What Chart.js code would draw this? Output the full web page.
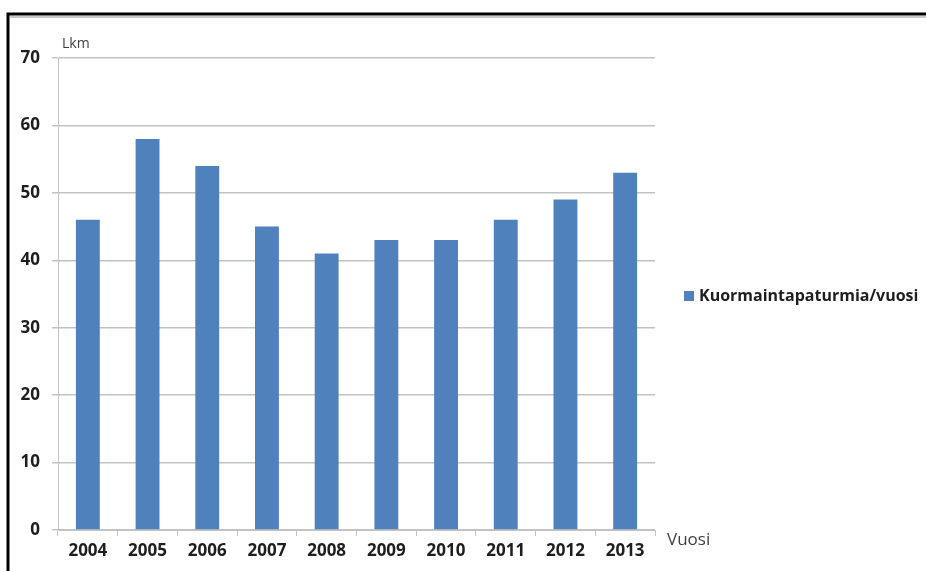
<!DOCTYPE html>
<html>
<head>
<meta charset="utf-8">
<script src="https://cdn.jsdelivr.net/npm/chart.js@4/dist/chart.umd.min.js"></script>
<style>
	html, body { margin: 0; padding: 0; background: #fff; }
	#wrap { position: relative; width: 926px; height: 571px; }
</style>
</head>
<body>
<div id="wrap"><canvas id="accidentChart" width="926" height="571"></canvas></div>
<script>
const years = ['2004', '2005', '2006', '2007', '2008', '2009', '2010', '2011', '2012', '2013'];
const accidents = [46, 58, 54, 45, 41, 43, 43, 46, 49, 53];
const yTicks = [0, 10, 20, 30, 40, 50, 60, 70];
const seriesName = 'Kuormaintapaturmia/vuosi';
const yTitle = 'Lkm';
const xTitle = 'Vuosi';

const barColor = '#4f81bd';
const gridColor = '#c3c3c3';
const textColor = '#1e1e1e';

// frame, axis captions and the legend on the right
const decorations = {
	id: 'decorations',
	beforeDraw(chart) {
		const ctx = chart.ctx;
		ctx.save();
		ctx.fillStyle = '#fff';
		ctx.fillRect(0, 0, chart.width, chart.height);
		ctx.strokeStyle = '#c8c8c8';
		ctx.lineWidth = 2;
		ctx.beginPath();
		ctx.moveTo(10, 17);
		ctx.lineTo(chart.width, 17);
		ctx.stroke();
		ctx.strokeStyle = '#000';
		ctx.lineWidth = 3;
		ctx.beginPath();
		ctx.moveTo(8, chart.height);
		ctx.lineTo(8, 14);
		ctx.lineTo(chart.width, 14);
		ctx.stroke();
		ctx.restore();
	},
	afterDraw(chart) {
		const ctx = chart.ctx;
		ctx.save();
		ctx.fillStyle = '#404040';
		ctx.textBaseline = 'middle';
		ctx.font = '14px "Open Sans"';
		ctx.fillText(yTitle, 62, 44);
		ctx.font = '17px "Open Sans"';
		ctx.fillText(xTitle, 667, 540);

		const ds = chart.data.datasets[0];
		ctx.fillStyle = ds.backgroundColor;
		ctx.fillRect(684, 291, 10, 10);
		ctx.fillStyle = textColor;
		ctx.font = 'bold 16px "Open Sans"';
		ctx.fillText(ds.label, 699, 296);
		ctx.restore();
	}
};

new Chart(document.getElementById('accidentChart').getContext('2d'), {
	type: 'bar',
	data: {
		labels: years,
		datasets: [{
			label: seriesName,
			data: accidents,
			backgroundColor: barColor,
			borderWidth: 0,
			barPercentage: 1,
			categoryPercentage: 0.4
		}]
	},
	options: {
		responsive: false,
		animation: false,
		layout: {
			padding: { left: 0, top: 58, right: 271, bottom: 0 }
		},
		scales: {
			x: {
				afterFit(scale) { scale.height = 41; },
				grid: {
					offset: true,
					drawOnChartArea: false,
					color: gridColor,
					tickLength: 6
				},
				border: { color: gridColor, width: 1 },
				ticks: {
					color: textColor,
					padding: 5,
					font: { family: 'Open Sans', size: 17, weight: 'bold' }
				}
			},
			y: {
				min: 0,
				max: 70,
				afterFit(scale) { scale.width = 58; },
				afterBuildTicks(scale) { scale.ticks = yTicks.map(v => ({ value: v })); },
				grid: {
					color: gridColor,
					lineWidth: 1.5,
					tickLength: 6
				},
				border: { color: gridColor, width: 1 },
				ticks: {
					color: textColor,
					padding: 12,
					font: { family: 'Open Sans', size: 17, weight: 'bold' }
				}
			}
		},
		plugins: {
			legend: { display: false },
			tooltip: { enabled: false }
		}
	},
	plugins: [decorations]
});
</script>
</body>
</html>
